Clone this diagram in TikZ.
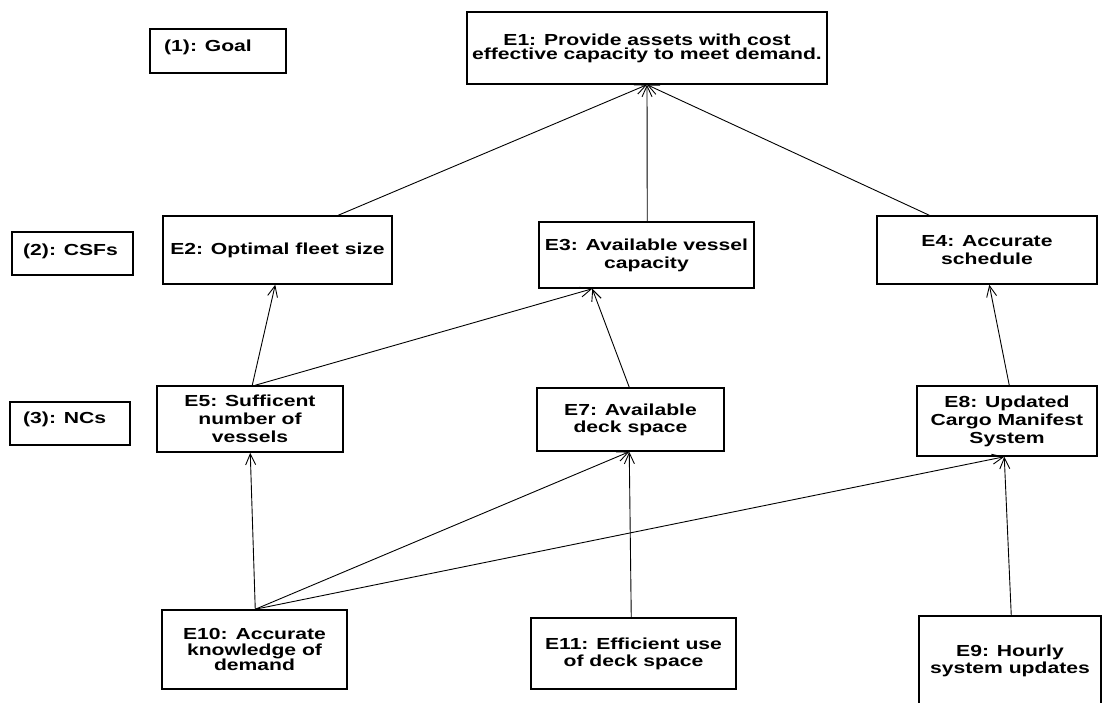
\documentclass[tikz,border=0pt]{standalone}
\usepackage{fontspec}
\setmainfont{Liberation Sans}[FakeStretch=1.32]
\usetikzlibrary{arrows.meta}

\newcommand{\lbl}[1]{\fontsize{16}{#1}\selectfont\bfseries}

\tikzset{
  box/.style={draw=black, line width=1.5pt, inner sep=2pt, align=center,
    font=\lbl{18}},
  legend/.style={draw=black, line width=1.5pt, inner sep=0pt},
  tag/.style={anchor=base west, inner sep=0pt, font=\lbl{18}},
  link/.style={line width=0.9pt,
    -{Straight Barb[length=11pt,width=10pt,line width=0.9pt]}},
}

\begin{document}
\begin{tikzpicture}[x=1pt,y=-1pt]
\useasboundingbox (0,0) rectangle (1102,703);

% level labels
\node[legend, minimum width=136pt, minimum height=44pt] (goal) at (218,51) {};
\node[tag] (goaltxt) at (164,52) {(1): Goal};
\node[legend, minimum width=121pt, minimum height=43pt] (csf) at (72.5,253.5) {};
\node[tag] (csftxt) at (23,255) {(2): CSFs};
\node[legend, minimum width=120pt, minimum height=43pt] (ncs) at (70,423.5) {};
\node[tag] (ncstxt) at (23,423) {(3): NCs};

% goal
\node[box, minimum width=360pt, minimum height=72pt, font=\lbl{14}] (e1) at (647,48)
  {E1: Provide assets with cost\\effective capacity to meet demand.};

% critical success factors
\node[box, minimum width=229pt, minimum height=68pt] (e2) at (277.5,250) {E2: Optimal fleet size};
\node[box, minimum width=215pt, minimum height=66pt] (e3) at (646.5,255) {E3: Available vessel\\capacity};
\node[box, minimum width=220pt, minimum height=68pt] (e4) at (987,250) {E4: Accurate\\schedule};

% necessary conditions
\node[box, minimum width=186pt, minimum height=66pt] (e5) at (250,419) {E5: Sufficent\\number of\\vessels};
\node[box, minimum width=187pt, minimum height=63pt, font=\lbl{17}] (e7) at (630.5,419.5) {E7: Available\\deck space};
\node[box, minimum width=180pt, minimum height=70pt] (e8) at (1007,421) {E8: Updated\\Cargo Manifest\\System};

% bottom level
\node[box, minimum width=185pt, minimum height=79pt, font=\lbl{15.5}] (e10) at (254.5,649.5) {E10: Accurate\\knowledge of\\demand};
\node[box, minimum width=205pt, minimum height=71pt, font=\lbl{17}] (e11) at (633.5,653.5) {E11: Efficient use\\of deck space};
\node[box, minimum width=182pt, minimum height=90pt, font=\lbl{17}] (e9) at (1010,661) {E9: Hourly\\system updates};

% CSFs to goal
\draw[link] ([xshift=176pt]e2.north west) -- (e1.south);
\draw[link] ([xshift=109pt]e3.north west) -- (e1.south);
\draw[link] ([xshift=53pt]e4.north west)  -- (e1.south);

% NCs to CSFs
\draw[link] ([xshift=96pt]e5.north west) -- ([xshift=113pt]e2.south west);
\draw[link] ([xshift=99pt]e5.north west) -- ([xshift=54pt]e3.south west);
\draw[link] ([xshift=93pt]e7.north west) -- ([xshift=54pt]e3.south west);
\draw[link] ([xshift=93pt]e8.north west) -- ([xshift=113pt]e4.south west);

% bottom level to NCs
\draw[link] ([xshift=94pt]e10.north west) -- ([xshift=94pt]e5.south west);
\draw[link] ([xshift=94pt]e10.north west) -- ([xshift=93pt]e7.south west);
\draw[link] ([xshift=94pt]e10.north west) -- ([xshift=88pt]e8.south west);
\draw[link] ([xshift=101pt]e11.north west) -- ([xshift=93pt]e7.south west);
\draw[link] ([xshift=93pt]e9.north west) -- ([xshift=88pt]e8.south west);
\end{tikzpicture}
\end{document}
